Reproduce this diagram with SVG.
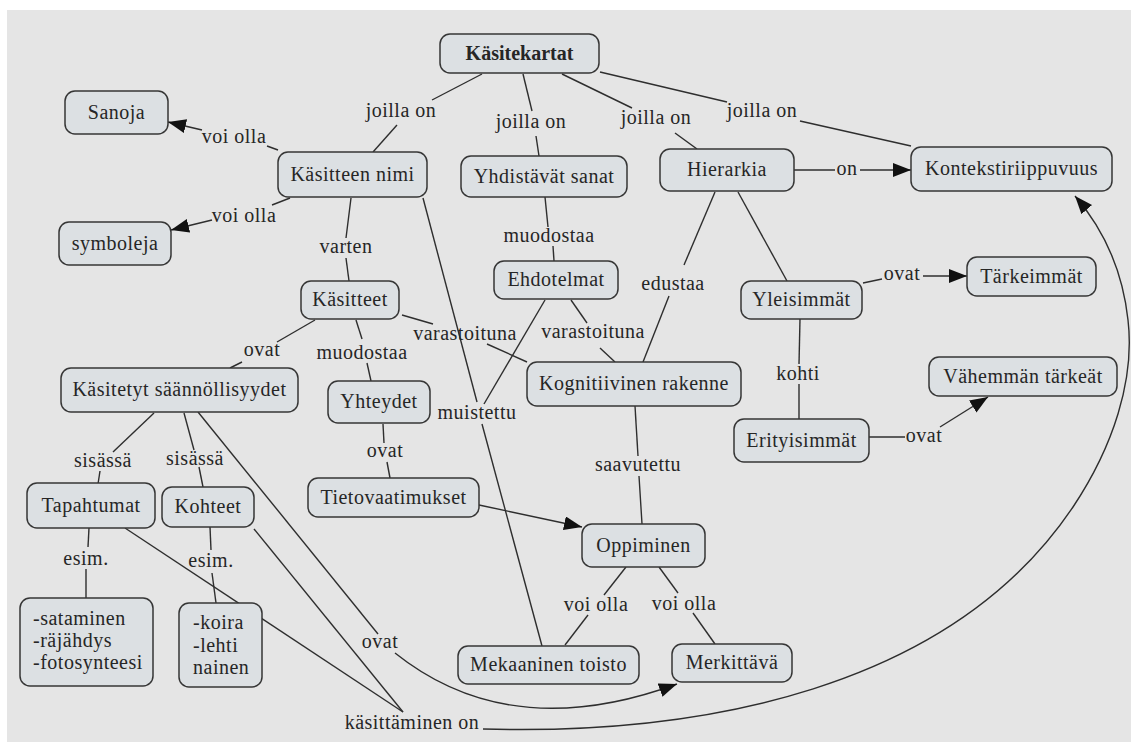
<svg xmlns="http://www.w3.org/2000/svg" width="1131" height="742" viewBox="0 0 1131 742">
<style>
.n rect{fill:#dce0e3;stroke:#363636;stroke-width:1.5}
text{font-family:'Liberation Serif','DejaVu Serif',serif;font-size:20px;fill:#262626;letter-spacing:0.5px}
.n text{text-anchor:middle}
.n text.s{text-anchor:start}
.n text.b{font-weight:bold;letter-spacing:0}
.l{text-anchor:middle}
.c line,.c path{stroke:#2e2e2e;stroke-width:1.4;fill:none}
</style>
<defs>
<marker id="ah" markerUnits="userSpaceOnUse" markerWidth="20" markerHeight="16" refX="18" refY="7" orient="auto">
<path d="M0,0 L18,7 L0,14 z" fill="#111"/>
</marker>
</defs>
<rect width="1131" height="742" fill="#ffffff"/>
<rect x="7" y="10" width="1124" height="732" fill="#e5e5e5"/>
<g id="connectors" class="c">
<line x1="482" y1="74" x2="432" y2="100"/>
<line x1="397" y1="125" x2="373" y2="152"/>
<line x1="523" y1="74" x2="532" y2="111"/>
<line x1="536" y1="136" x2="539" y2="156"/>
<line x1="562" y1="74" x2="632" y2="108"/>
<line x1="675" y1="133" x2="697" y2="149"/>
<line x1="600" y1="72" x2="727" y2="102"/>
<line x1="800" y1="121" x2="911" y2="146"/>
<line x1="794" y1="170" x2="835" y2="170"/>
<line x1="860" y1="170" x2="911" y2="170" marker-end="url(#ah)"/>
<line x1="278" y1="150" x2="267" y2="146"/>
<line x1="202" y1="130" x2="168" y2="122" marker-end="url(#ah)"/>
<line x1="290" y1="198" x2="272" y2="205"/>
<line x1="212" y1="220" x2="171" y2="230" marker-end="url(#ah)"/>
<line x1="351" y1="198" x2="346" y2="238"/>
<line x1="346" y1="258" x2="349" y2="281"/>
<line x1="423" y1="198" x2="477" y2="402"/>
<line x1="545" y1="300" x2="484" y2="404"/>
<line x1="482" y1="424" x2="542" y2="646"/>
<line x1="545" y1="197" x2="548" y2="227"/>
<line x1="553" y1="246" x2="554" y2="261"/>
<line x1="715" y1="192" x2="684" y2="265"/>
<line x1="669" y1="296" x2="643" y2="362"/>
<line x1="738" y1="192" x2="787" y2="281"/>
<line x1="863" y1="283" x2="882" y2="279"/>
<line x1="923" y1="276" x2="967" y2="276" marker-end="url(#ah)"/>
<line x1="800" y1="319" x2="799" y2="364"/>
<line x1="799" y1="384" x2="799" y2="419"/>
<line x1="869" y1="437" x2="905" y2="437"/>
<line x1="940" y1="427" x2="988" y2="397" marker-end="url(#ah)"/>
<line x1="402" y1="315" x2="433" y2="324"/>
<line x1="487" y1="344" x2="527" y2="362"/>
<line x1="571" y1="300" x2="587" y2="323"/>
<line x1="600" y1="348" x2="615" y2="362"/>
<line x1="315" y1="320" x2="277" y2="342"/>
<line x1="242" y1="362" x2="230" y2="368"/>
<line x1="356" y1="320" x2="362" y2="339"/>
<line x1="367" y1="363" x2="371" y2="381"/>
<line x1="383" y1="424" x2="384" y2="443"/>
<line x1="387" y1="462" x2="390" y2="478"/>
<line x1="479" y1="505" x2="582" y2="527" marker-end="url(#ah)"/>
<line x1="635" y1="406" x2="638" y2="456"/>
<line x1="639" y1="476" x2="642" y2="524"/>
<line x1="626" y1="567" x2="604" y2="595"/>
<line x1="588" y1="615" x2="565" y2="645"/>
<line x1="659" y1="567" x2="678" y2="593"/>
<line x1="693" y1="613" x2="715" y2="644"/>
<line x1="154" y1="413" x2="113" y2="452"/>
<line x1="100" y1="471" x2="98" y2="484"/>
<line x1="184" y1="413" x2="194" y2="450"/>
<line x1="199" y1="467" x2="203" y2="487"/>
<line x1="198" y1="412" x2="378" y2="634"/>
<path d="M395,653 Q510,745 677,684" marker-end="url(#ah)"/>
<line x1="89" y1="528" x2="88" y2="547"/>
<line x1="86" y1="569" x2="86" y2="598"/>
<line x1="210" y1="527" x2="211" y2="550"/>
<line x1="212" y1="573" x2="216" y2="603"/>
<line x1="125" y1="528" x2="403" y2="712"/>
<line x1="254" y1="529" x2="403" y2="712"/>
<path d="M483,729 C700,735 950,690 1073,507 C1113,447 1135,380 1128,320 C1122,265 1100,225 1075,196" marker-end="url(#ah)"/>
<text class="l" x="401" y="117">joilla on</text>
<text class="l" x="531" y="128">joilla on</text>
<text class="l" x="656" y="124">joilla on</text>
<text class="l" x="762" y="117">joilla on</text>
<text class="l" x="847" y="175">on</text>
<text class="l" x="234" y="143">voi olla</text>
<text class="l" x="244" y="222">voi olla</text>
<text class="l" x="346" y="253">varten</text>
<text class="l" x="549" y="242">muodostaa</text>
<text class="l" x="673" y="290">edustaa</text>
<text class="l" x="465" y="340">varastoituna</text>
<text class="l" x="593" y="338">varastoituna</text>
<text class="l" x="262" y="356">ovat</text>
<text class="l" x="362" y="359">muodostaa</text>
<text class="l" x="902" y="280">ovat</text>
<text class="l" x="798" y="380">kohti</text>
<text class="l" x="924" y="442">ovat</text>
<text class="l" x="477" y="419">muistettu</text>
<text class="l" x="103" y="467">sisässä</text>
<text class="l" x="195" y="465">sisässä</text>
<text class="l" x="385" y="457">ovat</text>
<text class="l" x="638" y="471">saavutettu</text>
<text class="l" x="86" y="565">esim.</text>
<text class="l" x="211" y="567">esim.</text>
<text class="l" x="380" y="648">ovat</text>
<text class="l" x="596" y="611">voi olla</text>
<text class="l" x="684" y="610">voi olla</text>
<text class="l" x="412" y="729">käsittäminen on</text>
</g>
<g id="n-kasitekartat" class="n"><rect x="440" y="34" width="159" height="39" rx="10"/><text class="b" x="519.5" y="60">Käsitekartat</text></g>
<g id="n-sanoja" class="n"><rect x="65" y="91" width="103" height="43" rx="10"/><text x="116.5" y="119">Sanoja</text></g>
<g id="n-kasitteen-nimi" class="n"><rect x="278" y="152" width="149" height="45" rx="10"/><text x="352.5" y="181">Käsitteen nimi</text></g>
<g id="n-symboleja" class="n"><rect x="59" y="222" width="112" height="43" rx="10"/><text x="115" y="250">symboleja</text></g>
<g id="n-yhdistavat" class="n"><rect x="461" y="156" width="166" height="41" rx="10"/><text x="544" y="183">Yhdistävät sanat</text></g>
<g id="n-hierarkia" class="n"><rect x="660" y="149" width="134" height="42" rx="10"/><text x="727" y="176">Hierarkia</text></g>
<g id="n-konteksti" class="n"><rect x="911" y="147" width="201" height="44" rx="10"/><text x="1011.5" y="175">Kontekstiriippuvuus</text></g>
<g id="n-ehdotelmat" class="n"><rect x="494" y="261" width="124" height="38" rx="10"/><text x="556" y="286">Ehdotelmat</text></g>
<g id="n-kasitteet" class="n"><rect x="301" y="281" width="98" height="38" rx="10"/><text x="350" y="306">Käsitteet</text></g>
<g id="n-yleisimmat" class="n"><rect x="741" y="281" width="121" height="38" rx="10"/><text x="801.5" y="306">Yleisimmät</text></g>
<g id="n-tarkeimmat" class="n"><rect x="967" y="257" width="129" height="39" rx="10"/><text x="1031.5" y="283">Tärkeimmät</text></g>
<g id="n-saannollisyydet" class="n"><rect x="61" y="368" width="237" height="44" rx="10"/><text x="179.5" y="396">Käsitetyt säännöllisyydet</text></g>
<g id="n-yhteydet" class="n"><rect x="328" y="381" width="102" height="42" rx="10"/><text x="379" y="408">Yhteydet</text></g>
<g id="n-kognitiivinen" class="n"><rect x="527" y="362" width="214" height="44" rx="10"/><text x="634" y="390">Kognitiivinen rakenne</text></g>
<g id="n-vahemman" class="n"><rect x="929" y="357" width="188" height="39" rx="10"/><text x="1023" y="383">Vähemmän tärkeät</text></g>
<g id="n-erityisimmat" class="n"><rect x="734" y="419" width="135" height="43" rx="10"/><text x="801.5" y="447">Erityisimmät</text></g>
<g id="n-tietovaatimukset" class="n"><rect x="308" y="478" width="171" height="39" rx="10"/><text x="393.5" y="504">Tietovaatimukset</text></g>
<g id="n-tapahtumat" class="n"><rect x="27" y="483" width="128" height="45" rx="10"/><text x="91" y="512">Tapahtumat</text></g>
<g id="n-kohteet" class="n"><rect x="162" y="487" width="92" height="40" rx="10"/><text x="208" y="513">Kohteet</text></g>
<g id="n-oppiminen" class="n"><rect x="582" y="524" width="123" height="43" rx="10"/><text x="643.5" y="552">Oppiminen</text></g>
<g id="n-esim-tapahtumat" class="n"><rect x="20" y="598" width="133" height="88" rx="10"/><text class="s" x="33" y="625">-sataminen</text><text class="s" x="33" y="647">-räjähdys</text><text class="s" x="33" y="669">-fotosynteesi</text></g>
<g id="n-esim-kohteet" class="n"><rect x="179" y="603" width="83" height="84" rx="10"/><text class="s" x="193" y="629">-koira</text><text class="s" x="193" y="652">-lehti</text><text class="s" x="193" y="674">nainen</text></g>
<g id="n-mekaaninen" class="n"><rect x="458" y="646" width="181" height="38" rx="10"/><text x="548.5" y="671">Mekaaninen toisto</text></g>
<g id="n-merkittava" class="n"><rect x="672" y="644" width="120" height="38" rx="10"/><text x="732" y="669">Merkittävä</text></g>
</svg>
